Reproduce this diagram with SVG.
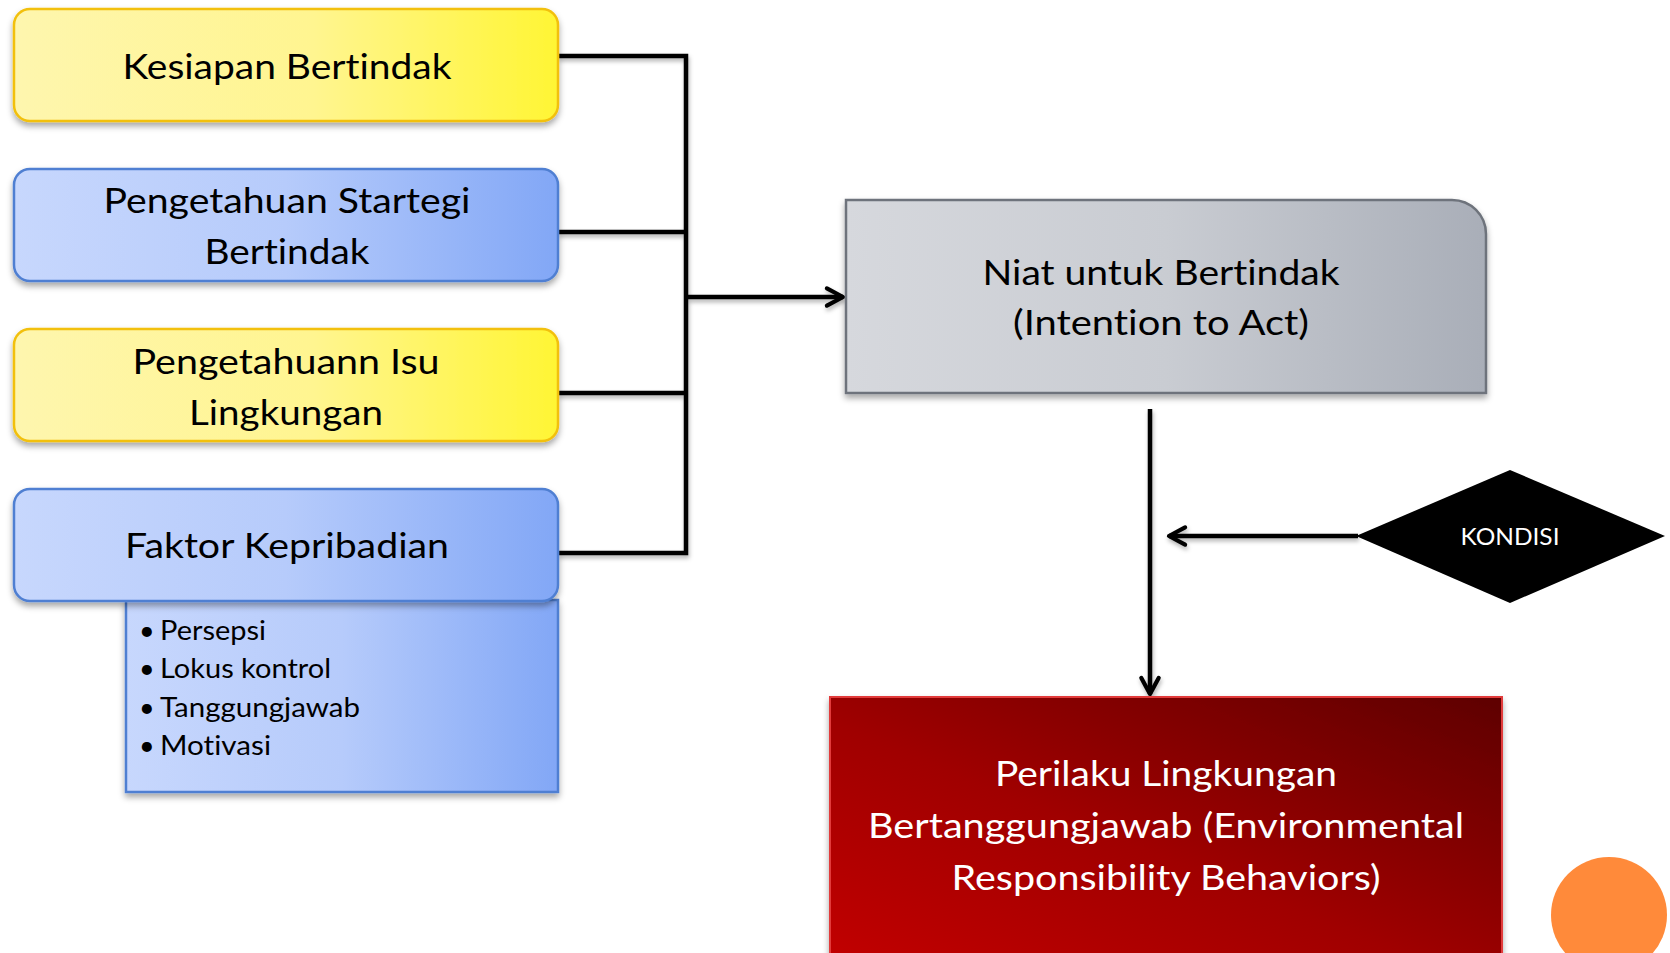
<svg xmlns="http://www.w3.org/2000/svg" width="1670" height="953" viewBox="0 0 1670 953">
<style>
.t{font-family:Lato,"Open Sans","Liberation Sans",sans-serif;fill:#000;text-anchor:middle;font-variant-ligatures:none;font-feature-settings:"liga" 0}
.big{font-size:35px}
.bul{font-size:27px;text-anchor:start}
.w{fill:#fff}
.conn{fill:none;stroke:#000;stroke-width:4.5;stroke-linecap:butt;stroke-linejoin:miter}
</style>
<defs>
<linearGradient id="gy" x1="0" y1="0" x2="1" y2="0">
<stop offset="0" stop-color="#FEF6AE"/><stop offset="0.55" stop-color="#FFF590"/><stop offset="1" stop-color="#FFF534"/>
</linearGradient>
<linearGradient id="gb" x1="0" y1="0" x2="1" y2="0">
<stop offset="0" stop-color="#C7D7FD"/><stop offset="0.5" stop-color="#B6CBFB"/><stop offset="1" stop-color="#82A7F6"/>
</linearGradient>
<linearGradient id="gg" x1="0" y1="0" x2="1" y2="0">
<stop offset="0" stop-color="#D6D8DD"/><stop offset="0.5" stop-color="#C9CCD2"/><stop offset="1" stop-color="#A9AEB8"/>
</linearGradient>
<linearGradient id="gr" x1="0" y1="1" x2="1" y2="0">
<stop offset="0" stop-color="#C20000"/><stop offset="0.45" stop-color="#A00000"/><stop offset="1" stop-color="#5E0000"/>
</linearGradient>
<filter id="sh" x="-10%" y="-10%" width="120%" height="130%">
<feDropShadow dx="0" dy="4" stdDeviation="3" flood-color="#000" flood-opacity="0.35"/>
</filter>
<filter id="lsh" x="-10%" y="-10%" width="120%" height="130%">
<feDropShadow dx="1" dy="3" stdDeviation="2" flood-color="#000" flood-opacity="0.3"/>
</filter>
<marker id="ah" viewBox="0 0 20 20" refX="17" refY="10" markerWidth="5.5" markerHeight="5.5" markerUnits="strokeWidth" orient="auto">
<polyline points="4,3 17,10 4,17" fill="none" stroke="#000" stroke-width="3.4" stroke-linecap="round" stroke-linejoin="round"/>
</marker>
</defs>

<g id="connectors" filter="url(#lsh)">
<polyline class="conn" points="558,56 686,56 686,553 558,553"/>
<line class="conn" x1="558" y1="232" x2="686" y2="232"/>
<line class="conn" x1="558" y1="393" x2="686" y2="393"/>
<line class="conn" x1="686" y1="297" x2="843" y2="297" marker-end="url(#ah)"/>
<line class="conn" x1="1150" y1="409" x2="1150" y2="694" marker-end="url(#ah)"/>
<line class="conn" x1="1358" y1="536" x2="1169" y2="536" marker-end="url(#ah)"/>
</g>

<g id="n-kesiapan">
<rect x="14" y="9" width="544" height="112" rx="16" fill="url(#gy)" stroke="#F2C00C" stroke-width="2.5" filter="url(#sh)"/>
<text class="t big" x="287" y="79" textLength="329" lengthAdjust="spacingAndGlyphs">Kesiapan Bertindak</text>
</g>

<g id="n-strategi">
<rect x="14" y="169" width="544" height="112" rx="16" fill="url(#gb)" stroke="#4F7FD2" stroke-width="2.5" filter="url(#sh)"/>
<text class="t big" x="287" y="213" textLength="367" lengthAdjust="spacingAndGlyphs">Pengetahuan Startegi</text>
<text class="t big" x="287" y="264" textLength="165" lengthAdjust="spacingAndGlyphs">Bertindak</text>
</g>

<g id="n-isu">
<rect x="14" y="329" width="544" height="112" rx="16" fill="url(#gy)" stroke="#F2C00C" stroke-width="2.5" filter="url(#sh)"/>
<text class="t big" x="286" y="374" textLength="307" lengthAdjust="spacingAndGlyphs">Pengetahuann Isu</text>
<text class="t big" x="286" y="425" textLength="194" lengthAdjust="spacingAndGlyphs">Lingkungan</text>
</g>

<g id="n-kepribadian-list">
<rect x="126" y="600" width="432" height="192" fill="url(#gb)" stroke="#4F7FD2" stroke-width="2.5" filter="url(#sh)"/>
<text class="t bul" x="139" y="640">•</text><text class="t bul" x="160" y="640" textLength="106" lengthAdjust="spacingAndGlyphs">Persepsi</text>
<text class="t bul" x="139" y="678">•</text><text class="t bul" x="160" y="678" textLength="171" lengthAdjust="spacingAndGlyphs">Lokus kontrol</text>
<text class="t bul" x="139" y="717">•</text><text class="t bul" x="160" y="717" textLength="200" lengthAdjust="spacingAndGlyphs">Tanggungjawab</text>
<text class="t bul" x="139" y="755">•</text><text class="t bul" x="160" y="755" textLength="111" lengthAdjust="spacingAndGlyphs">Motivasi</text>
</g>

<g id="n-kepribadian">
<rect x="14" y="489" width="544" height="112" rx="16" fill="url(#gb)" stroke="#4F7FD2" stroke-width="2.5" filter="url(#sh)"/>
<text class="t big" x="287" y="558" textLength="324" lengthAdjust="spacingAndGlyphs">Faktor Kepribadian</text>
</g>

<g id="n-niat">
<path d="M846,200 H1452 A34,34 0 0 1 1486,234 V393 H846 Z" fill="url(#gg)" stroke="#6E737B" stroke-width="2.5" filter="url(#sh)"/>
<text class="t big" x="1161" y="285" textLength="357" lengthAdjust="spacingAndGlyphs">Niat untuk Bertindak</text>
<text class="t big" x="1161" y="335" textLength="296" lengthAdjust="spacingAndGlyphs">(Intention to Act)</text>
</g>

<g id="n-kondisi">
<polygon points="1356,536 1510,470 1665,536 1510,603" fill="#000"/>
<text class="t w" x="1510" y="545" font-size="23" textLength="99" lengthAdjust="spacingAndGlyphs">KONDISI</text>
</g>

<g id="n-perilaku">
<rect x="830" y="697" width="672" height="270" fill="url(#gr)" stroke="#E23A3A" stroke-width="2" filter="url(#sh)"/>
<text class="t big w" x="1166" y="786" textLength="342" lengthAdjust="spacingAndGlyphs">Perilaku Lingkungan</text>
<text class="t big w" x="1166" y="838" textLength="596" lengthAdjust="spacingAndGlyphs">Bertanggungjawab (Environmental</text>
<text class="t big w" x="1166" y="890" textLength="429" lengthAdjust="spacingAndGlyphs">Responsibility Behaviors)</text>
</g>

<g id="deco-circle">
<ellipse cx="1609" cy="915" rx="58" ry="58" fill="#FF8A3A"/>
</g>
</svg>
